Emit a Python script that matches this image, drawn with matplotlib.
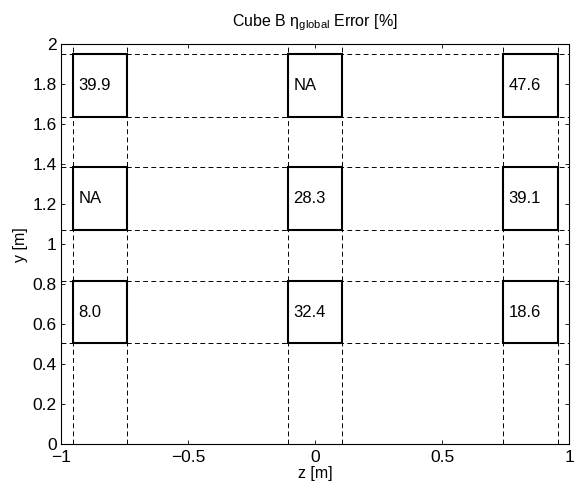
import matplotlib
matplotlib.use("Agg")
import matplotlib.pyplot as plt
from matplotlib.patches import Rectangle

# ----------------------------------------------------------
# DATA
# ----------------------------------------------------------
z_edges = [(-0.952, -0.739), (-0.105, 0.107), (0.741, 0.955)]   # left/right of each column
y_edges = [(0.505, 0.818), (1.070, 1.385), (1.635, 1.950)]      # bottom/top of each row
# error labels, rows from bottom to top, columns left to right
labels = [["8.0", "32.4", "18.6"],
          ["NA", "28.3", "39.1"],
          ["39.9", "NA", "47.6"]]

x_ticks = [-1, -0.5, 0, 0.5, 1]
x_ticklabels = ["\u22121", "\u22120.5", "0", "0.5", "1"]
y_ticks = [0, 0.2, 0.4, 0.6, 0.8, 1, 1.2, 1.4, 1.6, 1.8, 2]
y_ticklabels = ["0", "0.2", "0.4", "0.6", "0.8", "1", "1.2", "1.4", "1.6", "1.8", "2"]

# ----------------------------------------------------------
# STYLE
# ----------------------------------------------------------
plt.rcParams["font.family"] = ["Liberation Sans", "DejaVu Sans"]
plt.rcParams["mathtext.fontset"] = "custom"
plt.rcParams["mathtext.rm"] = "Liberation Sans"
plt.rcParams["mathtext.it"] = "Liberation Sans:italic"
plt.rcParams["mathtext.sf"] = "Liberation Sans"

fig = plt.figure(figsize=(5.74, 4.88), dpi=100)
ax = fig.add_axes([0.1063, 0.0895, 0.885, 0.8197])

dash = (0, (5.0, 3.4))

# dashed guide lines through every box edge
for z0, z1 in z_edges:
    for z in (z0, z1):
        ax.plot([z, z], [0, 2], color="black", lw=0.7, linestyle=dash, zorder=1)
for y0, y1 in y_edges:
    for y in (y0, y1):
        ax.plot([-1, 1], [y, y], color="black", lw=0.7, linestyle=dash, zorder=1)

# boxes with their labels
for i, (y0, y1) in enumerate(y_edges):
    for j, (z0, z1) in enumerate(z_edges):
        ax.add_patch(Rectangle((z0, y0), z1 - z0, y1 - y0, facecolor="white",
                               edgecolor="black", lw=1.5, zorder=2))
        ax.text(z0 + 0.02, (y0 + y1) / 2, labels[i][j], ha="left", va="center",
                fontsize=12, zorder=3)

ax.set_xlim(-1, 1)
ax.set_ylim(0, 2)
ax.set_xticks(x_ticks)
ax.set_xticklabels(x_ticklabels)
ax.set_yticks(y_ticks)
ax.set_yticklabels(y_ticklabels)
ax.tick_params(direction="in", top=True, right=True, labelsize=12.5, length=3.2, width=0.6)
ax.tick_params(axis="x", pad=4)
ax.tick_params(axis="y", pad=3)
for s in ax.spines.values():
    s.set_linewidth(0.8)

ax.set_xlabel("z [m]", fontsize=11.5, labelpad=1)
ax.set_ylabel("y [m]", fontsize=11.5, labelpad=3)
ax.set_title("Cube B \u03b7$_{\\mathrm{global}}$ Error [%]", fontsize=11.5, pad=13)

fig.savefig("out.png", dpi=100)
